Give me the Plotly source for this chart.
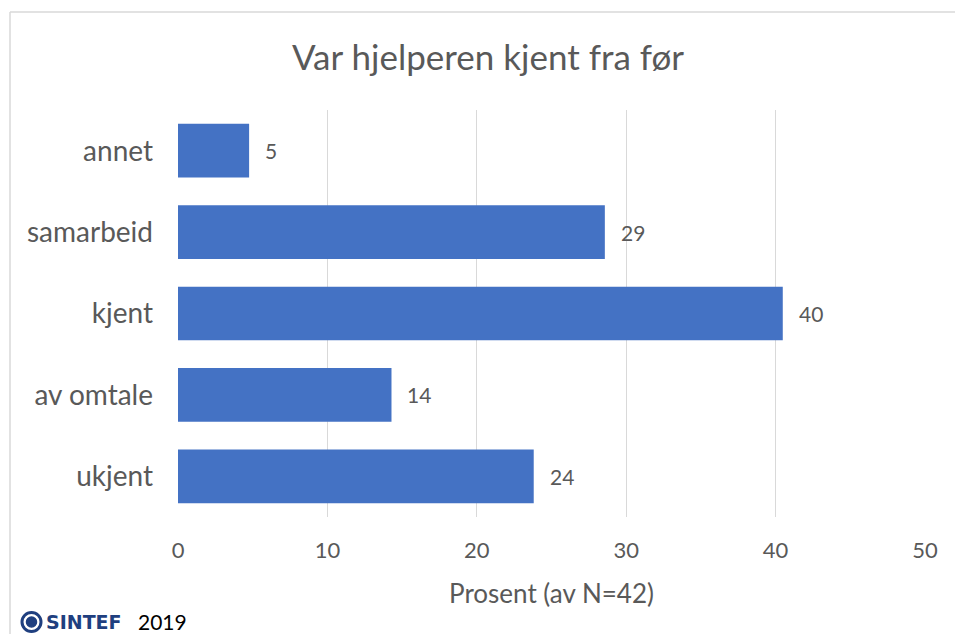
import plotly.graph_objects as go

categories = ["ukjent", "av omtale", "kjent", "samarbeid", "annet"]
values = [23.81, 14.29, 40.48, 28.57, 4.76]
labels = ["24", "14", "40", "29", "5"]
x_ticks = [0, 10, 20, 30, 40, 50]

title_text = "Var hjelperen kjent fra før"
x_title = "Prosent (av N=42)"

FONT = "Lato"
GRAY = "#595959"
BAR = "#4472C4"

# plot area in pixels
L, R, T, B = 178, 925, 110, 517
W, H = R - L, B - T


def px(x):
    return (x - L) / W


def py(y):
    return (B - y) / H


fig = go.Figure()
fig.add_trace(go.Bar(
    y=categories, x=values, orientation="h",
    marker=dict(color=BAR, line=dict(width=0)),
    hoverinfo="skip",
))

annotations = []
for c, v, t in zip(categories, values, labels):
    annotations.append(dict(x=v, y=c, xref="x", yref="y", text=t, showarrow=False,
                            xanchor="left", xshift=14,
                            font=dict(family=FONT, size=21, color=GRAY)))

annotations.append(dict(x=px(488), y=py(56), xref="paper", yref="paper", text=title_text,
                        showarrow=False, xanchor="center", yanchor="middle",
                        font=dict(family=FONT, size=35, color=GRAY)))
annotations.append(dict(x=px(44), y=py(622), xref="paper", yref="paper",
                        text="<b>SINTEF</b>", showarrow=False, xanchor="left", yanchor="middle",
                        font=dict(family="DejaVu Sans", size=19, color="#1F3F7F")))
annotations.append(dict(x=px(136), y=py(621), xref="paper", yref="paper",
                        text="2019", showarrow=False, xanchor="left", yanchor="middle",
                        font=dict(family=FONT, size=21, color="#000000")))

shapes = [
    dict(type="line", xref="paper", yref="paper", x0=px(10), x1=px(10), y0=py(12), y1=py(640),
         line=dict(color="#D9D9D9", width=1.5)),
    dict(type="line", xref="paper", yref="paper", x0=px(10), x1=px(965), y0=py(12), y1=py(12),
         line=dict(color="#D9D9D9", width=1.5)),
    dict(type="circle", xref="paper", yref="paper", x0=px(22), x1=px(41), y0=py(631.5), y1=py(612.5),
         line=dict(color="#1F3F7F", width=3), fillcolor="white"),
    dict(type="circle", xref="paper", yref="paper", x0=px(26.5), x1=px(36.5), y0=py(627), y1=py(617),
         line=dict(color="#1F3F7F", width=1.5), fillcolor="#1F3F7F"),
]

fig.update_layout(
    width=955, height=634,
    margin=dict(l=L, r=955 - R, t=T, b=634 - B),
    paper_bgcolor="white", plot_bgcolor="white",
    showlegend=False, bargap=0.34,
    annotations=annotations, shapes=shapes,
    xaxis=dict(range=[0, 50], tickvals=x_ticks, showgrid=True, gridcolor="#D9D9D9", gridwidth=1.3,
               zeroline=False, showline=False, ticks="",
               tickfont=dict(family=FONT, size=22, color=GRAY), ticklabelstandoff=18,
               title=dict(text=x_title, font=dict(family=FONT, size=26, color=GRAY), standoff=22)),
    yaxis=dict(categoryorder="array", categoryarray=categories, showgrid=False, zeroline=False,
               showline=False, ticks="",
               tickfont=dict(family=FONT, size=28, color=GRAY), ticklabelstandoff=24),
)

fig.write_html("out.html", config={"displayModeBar": False},
               post_script="document.body.style.margin='0';document.body.style.overflow='hidden';")
